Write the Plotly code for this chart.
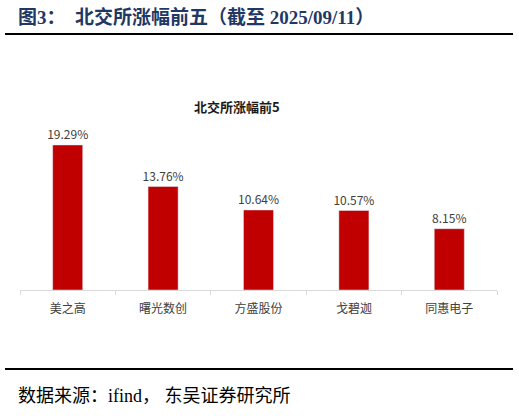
import plotly.graph_objects as go

W, H = 519, 416
# plot area in pixels
PL, PR, PT, PB = 20, 497, 125, 290

stocks = ["美之高", "曙光数创", "方盛股份", "戈碧迦", "同惠电子"]
gains = [19.29, 13.76, 10.64, 10.57, 8.15]
labels = [f"{v:.2f}%" for v in gains]

RED = "#C00000"
NAVY = "#1F3864"
SERIF = "Liberation Serif, Noto Sans CJK SC, serif"
SANS = "Noto Sans CJK SC, Microsoft YaHei, sans-serif"


def px_x(p):
    return (p - PL) / (PR - PL)


def px_y(p):
    return (PB - p) / (PB - PT)


fig = go.Figure(go.Bar(
    x=stocks, y=gains,
    marker_color=RED,
    text=labels, textposition="outside", constraintext="none",
    textfont=dict(size=12, color="#404040", family=SANS),
    cliponaxis=False,
))

fig.update_layout(
    width=W, height=H,
    paper_bgcolor="white", plot_bgcolor="white",
    margin=dict(l=PL, r=W - PR, t=PT, b=H - PB),
    bargap=0.685,
    showlegend=False,
    font=dict(family=SANS, color="#404040"),
    xaxis=dict(
        showline=True, linecolor="#D9D9D9", linewidth=1,
        ticks="outside", tickson="boundaries", ticklen=4, tickcolor="#D9D9D9",
        tickfont=dict(size=12, color="#404040", family=SANS),
        ticklabelstandoff=8,
        showgrid=False,
    ),
    yaxis=dict(range=[0, 165 / 7.52], visible=False, showgrid=False),
)

# chart title
fig.add_annotation(
    text="<b>北交所涨幅前5</b>", x=px_x(237), y=px_y(95),
    xref="paper", yref="paper", showarrow=False,
    font=dict(size=13, color="#1a1a1a", family=SANS),
)

# report header
fig.add_annotation(
    text="<b>图3：  北交所涨幅前五（截至 2025/09/11）</b>",
    x=px_x(16), y=px_y(17), xref="paper", yref="paper",
    xanchor="left", yanchor="middle", showarrow=False,
    font=dict(size=19, color=NAVY, family=SERIF),
)
fig.add_shape(type="line", xref="paper", yref="paper",
              x0=px_x(5), x1=px_x(513), y0=px_y(34), y1=px_y(34),
              line=dict(color="black", width=2))
fig.add_shape(type="line", xref="paper", yref="paper",
              x0=px_x(5), x1=px_x(513), y0=px_y(369), y1=px_y(369),
              line=dict(color="black", width=2))

# source
fig.add_annotation(
    text="数据来源：ifind， 东吴证券研究所",
    x=px_x(16), y=px_y(396), xref="paper", yref="paper",
    xanchor="left", yanchor="middle", showarrow=False,
    font=dict(size=18, color="black", family=SERIF),
)

fig.write_html("out.html", config={"displayModeBar": False},
               post_script="document.body.style.margin='0';")
